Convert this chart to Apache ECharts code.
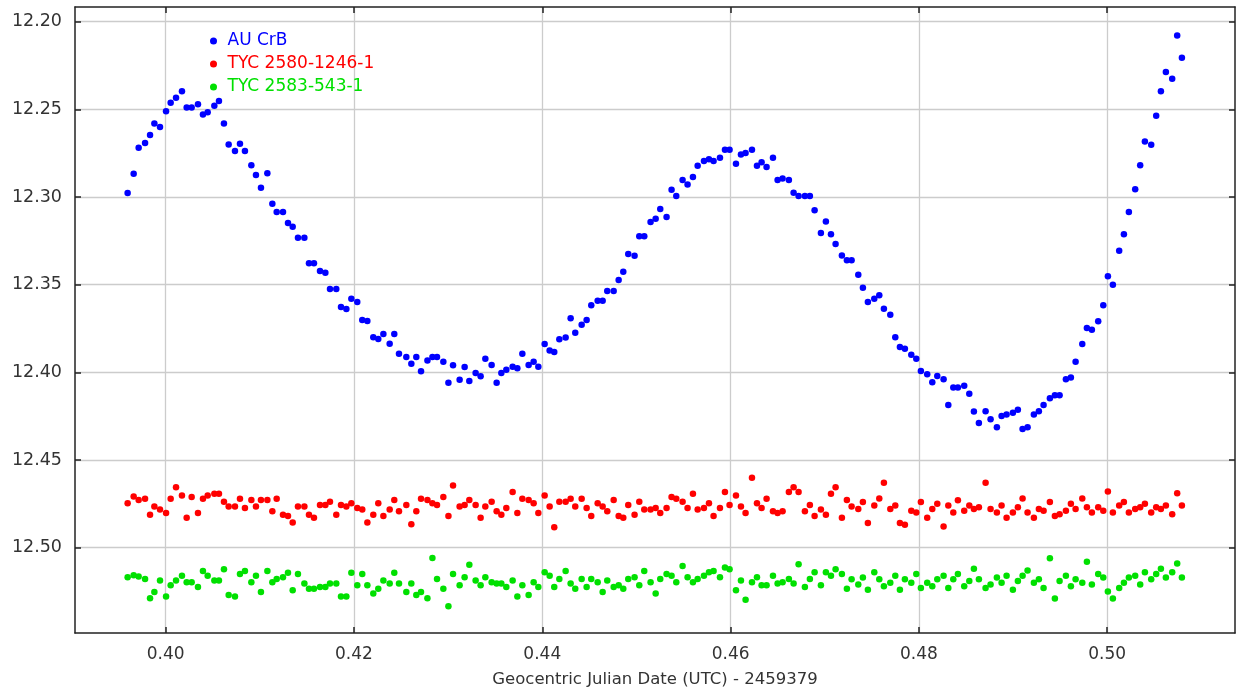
<!DOCTYPE html>
<html>
<head>
<meta charset="utf-8">
<script src="https://cdn.jsdelivr.net/npm/echarts@6/dist/echarts.min.js"></script>
<style>html,body{margin:0;padding:0;background:#fff}#c{width:1237px;height:694px}</style>
</head>
<body>
<div id="c"></div>
<script>
// Geocentric Julian Date (UTC) - 2459379
const times = [
0.39596,0.39660,0.39713,0.39781,0.39834,0.39880,0.39940,0.40004,0.40053,0.40110,
0.40173,0.40223,0.40276,0.40343,0.40396,0.40446,0.40517,0.40566,0.40619,0.40669,
0.40736,0.40789,0.40842,0.40910,0.40959,0.41012,0.41080,0.41133,0.41179,0.41246,
0.41299,0.41349,0.41405,0.41473,0.41522,0.41575,0.41639,0.41696,0.41745,0.41812,
0.41862,0.41919,0.41972,0.42035,0.42088,0.42142,0.42205,0.42258,0.42312,0.42379,
0.42428,0.42478,0.42556,0.42609,0.42662,0.42712,0.42780,0.42833,0.42882,0.42949,
0.43003,0.43052,0.43122,0.43175,0.43225,0.43292,0.43345,0.43395,0.43462,0.43515,
0.43565,0.43618,0.43685,0.43735,0.43788,0.43855,0.43908,0.43958,0.44025,0.44078,
0.44127,0.44181,0.44248,0.44301,0.44350,0.44418,0.44471,0.44520,0.44588,0.44641,
0.44690,0.44758,0.44811,0.44860,0.44913,0.44980,0.45030,0.45083,0.45150,0.45204,
0.45253,0.45320,0.45373,0.45423,0.45490,0.45543,0.45600,0.45650,0.45717,0.45770,
0.45819,0.45887,0.45940,0.45989,0.46057,0.46110,0.46159,0.46227,0.46280,0.46329,
0.46382,0.46450,0.46499,0.46552,0.46619,0.46669,0.46722,0.46789,0.46842,0.46892,
0.46959,0.47012,0.47066,0.47115,0.47182,0.47235,0.47285,0.47356,0.47405,0.47458,
0.47526,0.47579,0.47628,0.47696,0.47749,0.47798,0.47851,0.47919,0.47972,0.48021,
0.48088,0.48142,0.48195,0.48262,0.48312,0.48365,0.48414,0.48481,0.48535,0.48584,
0.48637,0.48708,0.48761,0.48828,0.48878,0.48931,0.48998,0.49051,0.49101,0.49154,
0.49221,0.49274,0.49324,0.49391,0.49444,0.49494,0.49561,0.49614,0.49664,0.49735,
0.49784,0.49837,0.49904,0.49958,0.50007,0.50060,0.50127,0.50177,0.50230,0.50297,
0.50350,0.50400,0.50467,0.50520,0.50570,0.50623,0.50690,0.50743,0.50793
];
const auCrB = [
12.2977,12.2867,12.2719,12.2692,12.2646,12.2580,12.2601,12.2510,12.2462,12.2433,
12.2397,12.2489,12.2489,12.2471,12.2529,12.2517,12.2479,12.2452,12.2580,12.2700,
12.2738,12.2696,12.2738,12.2819,12.2875,12.2947,12.2865,12.3038,12.3086,12.3086,
12.3148,12.3169,12.3232,12.3232,12.3378,12.3378,12.3422,12.3432,12.3525,12.3525,
12.3627,12.3639,12.3580,12.3599,12.3702,12.3707,12.3800,12.3810,12.3781,12.3837,
12.3781,12.3894,12.3913,12.3951,12.3913,12.3994,12.3932,12.3913,12.3913,12.3939,
12.4059,12.3960,12.4042,12.3970,12.4049,12.4004,12.4023,12.3922,12.3958,12.4059,
12.4004,12.3985,12.3968,12.3977,12.3894,12.3958,12.3939,12.3968,12.3838,12.3875,
12.3884,12.3812,12.3802,12.3692,12.3774,12.3728,12.3702,12.3618,12.3591,12.3591,
12.3536,12.3536,12.3473,12.3426,12.3325,12.3335,12.3224,12.3224,12.3143,12.3124,
12.3068,12.3114,12.2958,12.2994,12.2903,12.2928,12.2886,12.2821,12.2795,12.2785,
12.2795,12.2776,12.2730,12.2730,12.2810,12.2757,12.2749,12.2730,12.2821,12.2802,
12.2829,12.2776,12.2903,12.2894,12.2903,12.2975,12.2994,12.2994,12.2994,12.3076,
12.3205,12.3140,12.3213,12.3268,12.3333,12.3361,12.3361,12.3443,12.3517,12.3599,
12.3580,12.3561,12.3637,12.3671,12.3800,12.3856,12.3865,12.3900,12.3922,12.3992,
12.4011,12.4057,12.4021,12.4040,12.4186,12.4086,12.4086,12.4076,12.4122,12.4224,
12.4289,12.4222,12.4268,12.4314,12.4249,12.4240,12.4230,12.4213,12.4323,12.4314,
12.4240,12.4222,12.4186,12.4148,12.4131,12.4131,12.4040,12.4030,12.3939,12.3838,
12.3747,12.3757,12.3709,12.3618,12.3452,12.3500,12.3306,12.3213,12.3086,12.2956,
12.2819,12.2683,12.2702,12.2536,12.2397,12.2287,12.2325,12.2078,12.2205
];
const tyc2580 = [
12.4747,12.4709,12.4728,12.4721,12.4812,12.4766,12.4783,12.4802,12.4721,12.4656,
12.4702,12.4829,12.4711,12.4802,12.4721,12.4702,12.4692,12.4692,12.4738,12.4766,
12.4766,12.4721,12.4774,12.4728,12.4766,12.4728,12.4728,12.4793,12.4721,12.4812,
12.4819,12.4857,12.4766,12.4766,12.4812,12.4829,12.4757,12.4757,12.4738,12.4812,
12.4757,12.4766,12.4747,12.4774,12.4783,12.4857,12.4812,12.4747,12.4819,12.4783,
12.4728,12.4793,12.4757,12.4867,12.4793,12.4721,12.4728,12.4747,12.4757,12.4711,
12.4819,12.4646,12.4766,12.4757,12.4728,12.4757,12.4829,12.4766,12.4738,12.4793,
12.4812,12.4774,12.4683,12.4802,12.4721,12.4728,12.4747,12.4802,12.4702,12.4766,
12.4884,12.4738,12.4738,12.4721,12.4766,12.4721,12.4774,12.4819,12.4747,12.4766,
12.4793,12.4728,12.4819,12.4829,12.4757,12.4812,12.4738,12.4783,12.4783,12.4774,
12.4802,12.4774,12.4711,12.4721,12.4738,12.4774,12.4692,12.4783,12.4774,12.4747,
12.4819,12.4774,12.4683,12.4757,12.4702,12.4766,12.4802,12.4601,12.4747,12.4774,
12.4721,12.4793,12.4802,12.4793,12.4683,12.4656,12.4683,12.4793,12.4757,12.4819,
12.4783,12.4812,12.4692,12.4656,12.4829,12.4728,12.4766,12.4780,12.4740,12.4860,
12.4760,12.4720,12.4630,12.4780,12.4760,12.4860,12.4870,12.4790,12.4800,12.4740,
12.4830,12.4780,12.4750,12.4880,12.4760,12.4800,12.4730,12.4790,12.4760,12.4780,
12.4770,12.4630,12.4780,12.4800,12.4760,12.4830,12.4800,12.4770,12.4720,12.4800,
12.4830,12.4780,12.4790,12.4740,12.4820,12.4810,12.4790,12.4750,12.4780,12.4720,
12.4770,12.4800,12.4770,12.4790,12.4680,12.4800,12.4760,12.4740,12.4800,12.4780,
12.4770,12.4750,12.4800,12.4770,12.4780,12.4760,12.4810,12.4690,12.4760
];
const tyc2583 = [
12.5169,12.5158,12.5165,12.5179,12.5289,12.5253,12.5188,12.5279,12.5215,12.5188,
12.5160,12.5198,12.5198,12.5224,12.5133,12.5160,12.5188,12.5188,12.5124,12.5270,
12.5279,12.5150,12.5133,12.5198,12.5160,12.5253,12.5133,12.5198,12.5179,12.5169,
12.5143,12.5243,12.5150,12.5205,12.5234,12.5234,12.5224,12.5224,12.5205,12.5205,
12.5279,12.5279,12.5143,12.5215,12.5150,12.5215,12.5262,12.5234,12.5188,12.5205,
12.5143,12.5205,12.5253,12.5205,12.5270,12.5253,12.5289,12.5059,12.5179,12.5234,
12.5335,12.5150,12.5215,12.5169,12.5097,12.5188,12.5215,12.5169,12.5198,12.5205,
12.5205,12.5224,12.5188,12.5279,12.5215,12.5270,12.5198,12.5224,12.5141,12.5160,
12.5224,12.5179,12.5133,12.5205,12.5234,12.5179,12.5224,12.5179,12.5198,12.5253,
12.5188,12.5224,12.5215,12.5234,12.5179,12.5169,12.5215,12.5133,12.5198,12.5262,
12.5179,12.5150,12.5160,12.5198,12.5105,12.5169,12.5198,12.5179,12.5160,12.5141,
12.5133,12.5169,12.5114,12.5124,12.5243,12.5188,12.5298,12.5198,12.5169,12.5215,
12.5215,12.5160,12.5205,12.5198,12.5179,12.5205,12.5095,12.5224,12.5179,12.5141,
12.5215,12.5141,12.5160,12.5124,12.5150,12.5234,12.5180,12.5210,12.5170,12.5240,
12.5140,12.5180,12.5220,12.5200,12.5160,12.5240,12.5180,12.5200,12.5150,12.5230,
12.5200,12.5220,12.5180,12.5160,12.5230,12.5180,12.5150,12.5220,12.5190,12.5120,
12.5180,12.5230,12.5210,12.5170,12.5200,12.5160,12.5240,12.5190,12.5160,12.5130,
12.5200,12.5180,12.5230,12.5060,12.5290,12.5190,12.5160,12.5220,12.5180,12.5200,
12.5080,12.5210,12.5150,12.5170,12.5250,12.5290,12.5230,12.5200,12.5170,12.5160,
12.5210,12.5140,12.5180,12.5150,12.5120,12.5170,12.5140,12.5090,12.5170
];
const seriesNames = ['AU CrB', 'TYC 2580-1246-1', 'TYC 2583-543-1'];
const seriesColors = ['#0000ff', '#ff0000', '#00e000'];
const xTicks = [0.40, 0.42, 0.44, 0.46, 0.48, 0.50];
const yTicks = [12.20, 12.25, 12.30, 12.35, 12.40, 12.45, 12.50];
const xTitle = 'Geocentric Julian Date (UTC) - 2459379';

const xMin = 0.39037, xMax = 0.51357;
const yMin = 12.1916, yMax = 12.5487;

function pairs(ys) {
  const out = [];
  const n = Math.min(times.length, ys.length);
  for (let i = 0; i < n; i++) out.push([times[i], ys[i]]);
  return out;
}

const FONT = 'DejaVu Sans';
const axisLineStyle = { color: '#222', width: 1.5 };
const gridLine = { show: true, lineStyle: { color: '#cccccc', width: 1.3 } };

const chart = echarts.init(document.getElementById('c'), null, { renderer: 'canvas' });
chart.setOption({
  animation: false,
  backgroundColor: '#ffffff',
  textStyle: { fontFamily: FONT },
  grid: { left: 75, right: 2, top: 7, bottom: 61, containLabel: false },
  legend: {
    orient: 'vertical',
    left: 205,
    top: 26,
    itemWidth: 18,
    itemHeight: 7,
    itemGap: 3,
    icon: 'circle',
    textStyle: { fontFamily: FONT, fontSize: 17, lineHeight: 20 },
    data: seriesNames.map((n, i) => ({ name: n, itemStyle: { color: seriesColors[i] }, textStyle: { color: seriesColors[i] } }))
  },
  xAxis: [
    {
      type: 'value', min: xMin, max: xMax, position: 'bottom',
      name: xTitle, nameLocation: 'middle', nameGap: 38,
      nameTextStyle: { fontFamily: FONT, fontSize: 16.5, color: '#333' },
      axisLine: { show: true, onZero: false, lineStyle: axisLineStyle },
      axisTick: { show: true, inside: true, length: 6, lineStyle: { color: '#222', width: 1.5 }, customValues: xTicks },
      axisLabel: { show: true, margin: 13, fontFamily: FONT, fontSize: 17, color: '#333', customValues: xTicks, formatter: v => v.toFixed(2) },
      splitLine: gridLine
    },
    {
      type: 'value', min: xMin, max: xMax, position: 'top',
      axisLine: { show: true, onZero: false, lineStyle: axisLineStyle },
      axisTick: { show: true, inside: true, length: 6, lineStyle: { color: '#222', width: 1.5 }, customValues: xTicks },
      axisLabel: { show: false },
      splitLine: { show: false }
    }
  ],
  yAxis: [
    {
      type: 'value', min: yMin, max: yMax, inverse: true, position: 'left',
      axisLine: { show: true, onZero: false, lineStyle: axisLineStyle },
      axisTick: { show: true, inside: true, length: 6, lineStyle: { color: '#222', width: 1.5 }, customValues: yTicks },
      axisLabel: { show: true, margin: 13, fontFamily: FONT, fontSize: 17.5, color: '#333', customValues: yTicks, formatter: v => v.toFixed(2) },
      splitLine: gridLine
    },
    {
      type: 'value', min: yMin, max: yMax, inverse: true, position: 'right',
      axisLine: { show: true, onZero: false, lineStyle: axisLineStyle },
      axisTick: { show: true, inside: true, length: 6, lineStyle: { color: '#222', width: 1.5 }, customValues: yTicks },
      axisLabel: { show: false },
      splitLine: { show: false }
    }
  ],
  series: [auCrB, tyc2580, tyc2583].map((ys, i) => ({
    name: seriesNames[i],
    type: 'scatter',
    xAxisIndex: 0,
    yAxisIndex: 0,
    symbol: 'circle',
    symbolSize: 6.5,
    itemStyle: { color: seriesColors[i], opacity: 1 },
    emphasis: { disabled: true },
    data: pairs(ys)
  }))
});
</script>
</body>
</html>
